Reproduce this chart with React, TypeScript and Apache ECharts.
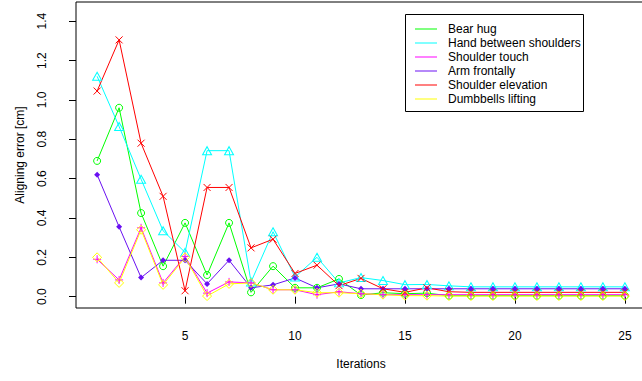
import React, { useEffect, useRef } from "react";
import * as echarts from "echarts";

// Iteration index on the horizontal axis
const iterations = [1, 2, 3, 4, 5, 6, 7, 8, 9, 10, 11, 12, 13, 14, 15, 16, 17, 18, 19, 20, 21, 22, 23, 24, 25];
const xTicks = [5, 10, 15, 20, 25];
const yTicks = [0, 0.2, 0.4, 0.6, 0.8, 1.0, 1.2, 1.4];

// Aligning error [cm] per exercise and iteration
const bearHug = [0.69, 0.96, 0.425, 0.155, 0.375, 0.11, 0.375, 0.022, 0.155, 0.045, 0.045, 0.09, 0.008, 0.02, 0.015, 0.018, 0.005, 0.005, 0.005, 0.005, 0.005, 0.005, 0.005, 0.005, 0.005];
const handBetweenShoulders = [1.12, 0.865, 0.597, 0.335, 0.225, 0.742, 0.742, 0.075, 0.33, 0.1, 0.2, 0.07, 0.097, 0.082, 0.061, 0.062, 0.055, 0.05, 0.05, 0.05, 0.05, 0.05, 0.05, 0.05, 0.05];
const shoulderTouch = [0.19, 0.085, 0.35, 0.07, 0.205, 0.018, 0.075, 0.07, 0.035, 0.035, 0.01, 0.025, 0.015, 0.01, 0.01, 0.01, 0.01, 0.01, 0.01, 0.01, 0.01, 0.01, 0.01, 0.01, 0.01];
const armFrontally = [0.62, 0.355, 0.097, 0.185, 0.185, 0.065, 0.185, 0.045, 0.06, 0.095, 0.045, 0.065, 0.04, 0.04, 0.04, 0.04, 0.04, 0.04, 0.04, 0.04, 0.04, 0.04, 0.04, 0.04, 0.04];
const shoulderElevation = [1.045, 1.305, 0.78, 0.51, 0.03, 0.555, 0.555, 0.248, 0.292, 0.118, 0.16, 0.056, 0.093, 0.04, 0.022, 0.045, 0.025, 0.022, 0.022, 0.022, 0.022, 0.022, 0.022, 0.022, 0.022];
const dumbbellsLifting = [0.2, 0.07, 0.34, 0.06, 0.2, 0.003, 0.065, 0.07, 0.035, 0.035, 0.02, 0.02, 0.015, 0.01, 0.005, 0.005, 0.003, 0.003, 0.003, 0.003, 0.003, 0.003, 0.003, 0.003, 0.003];

const FONT = "'Liberation Sans', Arial, Helvetica, sans-serif";

const PLUS = "path://M5,0 L5,10 M0,5 L10,5";
const CROSS = "path://M0,0 L10,10 M10,0 L0,10";

type Spec = {
  name: string;
  color: string;
  symbol: string;
  size: number | number[];
  filled: boolean;
  values: number[];
};

const specs: Spec[] = [
  { name: "Bear hug", color: "#00FF00", symbol: "circle", size: 7, filled: false, values: bearHug },
  { name: "Hand between shoulders", color: "#00FFFF", symbol: "triangle", size: [9, 8], filled: false, values: handBetweenShoulders },
  { name: "Shoulder touch", color: "#FF00FF", symbol: PLUS, size: 8, filled: false, values: shoulderTouch },
  { name: "Arm frontally", color: "#6A10F2", symbol: "diamond", size: 6, filled: true, values: armFrontally },
  { name: "Shoulder elevation", color: "#FF0000", symbol: CROSS, size: 7, filled: false, values: shoulderElevation },
  { name: "Dumbbells lifting", color: "#FFFF00", symbol: "diamond", size: 9, filled: false, values: dumbbellsLifting },
];

export default function App() {
  const ref = useRef<HTMLDivElement>(null);

  useEffect(() => {
    if (!ref.current) return;
    const chart = echarts.init(ref.current, null, { renderer: "svg" });

    const series = specs.map((s) => ({
      type: "line",
      name: s.name,
      data: iterations.map((it, i) => [it, s.values[i]]),
      symbol: s.symbol,
      symbolSize: s.size,
      showSymbol: true,
      lineStyle: { color: s.color, width: 1 },
      itemStyle: s.filled
        ? { color: s.color, borderWidth: 0 }
        : { color: "transparent", borderColor: s.color, borderWidth: 1 },
      emphasis: { disabled: true },
      silent: true,
      clip: false,
    }));

    chart.setOption({
      animation: false,
      backgroundColor: "#fff",
      grid: {
        left: 76,
        top: 2,
        width: 570,
        height: 306,
        show: true,
        borderColor: "#000",
        borderWidth: 1,
        backgroundColor: "transparent",
      },
      xAxis: {
        type: "value",
        min: 0.04,
        max: 25.96,
        axisLine: { show: false },
        splitLine: { show: false },
        axisTick: { show: true, length: 7, lineStyle: { color: "#000" }, customValues: xTicks },
        axisLabel: { customValues: xTicks, margin: 22, fontSize: 12, color: "#000", fontFamily: FONT },
        name: "Iterations",
        nameLocation: "middle",
        nameGap: 50,
        nameTextStyle: { fontSize: 12, color: "#000", fontFamily: FONT },
      },
      yAxis: {
        type: "value",
        min: -0.0576,
        max: 1.4976,
        axisLine: { show: false },
        splitLine: { show: false },
        axisTick: { show: true, length: 7, lineStyle: { color: "#000" }, customValues: yTicks },
        axisLabel: {
          customValues: yTicks,
          rotate: 90,
          margin: 28,
          fontSize: 12,
          color: "#000",
          fontFamily: FONT,
          formatter: (v: number) => v.toFixed(1),
        },
        name: "Aligning error [cm]",
        nameLocation: "middle",
        nameGap: 50,
        nameTextStyle: { fontSize: 12, color: "#000", fontFamily: FONT },
      },
      legend: {
        orient: "vertical",
        left: 415,
        top: 22,
        padding: 0,
        itemGap: 0,
        itemWidth: 22,
        itemHeight: 1,
        icon: "rect",
        selectedMode: false,
        textStyle: { fontSize: 12, color: "#000", fontFamily: FONT, lineHeight: 14, padding: [0, 0, 0, 6] },
        data: specs.map((s) => ({ name: s.name, itemStyle: { color: s.color, borderWidth: 0 } })),
      },
      graphic: [
        {
          type: "rect",
          silent: true,
          shape: { x: 405.5, y: 14.5, width: 178, height: 97 },
          style: { fill: "none", stroke: "#000", lineWidth: 1 },
        },
      ],
      series,
    });

    return () => chart.dispose();
  }, []);

  return (
    <div
      style={{
        position: "fixed",
        left: 0,
        top: 0,
        width: 642,
        height: 381,
        overflow: "hidden",
        background: "#fff",
      }}
    >
      <div ref={ref} style={{ width: 660, height: 381 }} />
    </div>
  );
}
